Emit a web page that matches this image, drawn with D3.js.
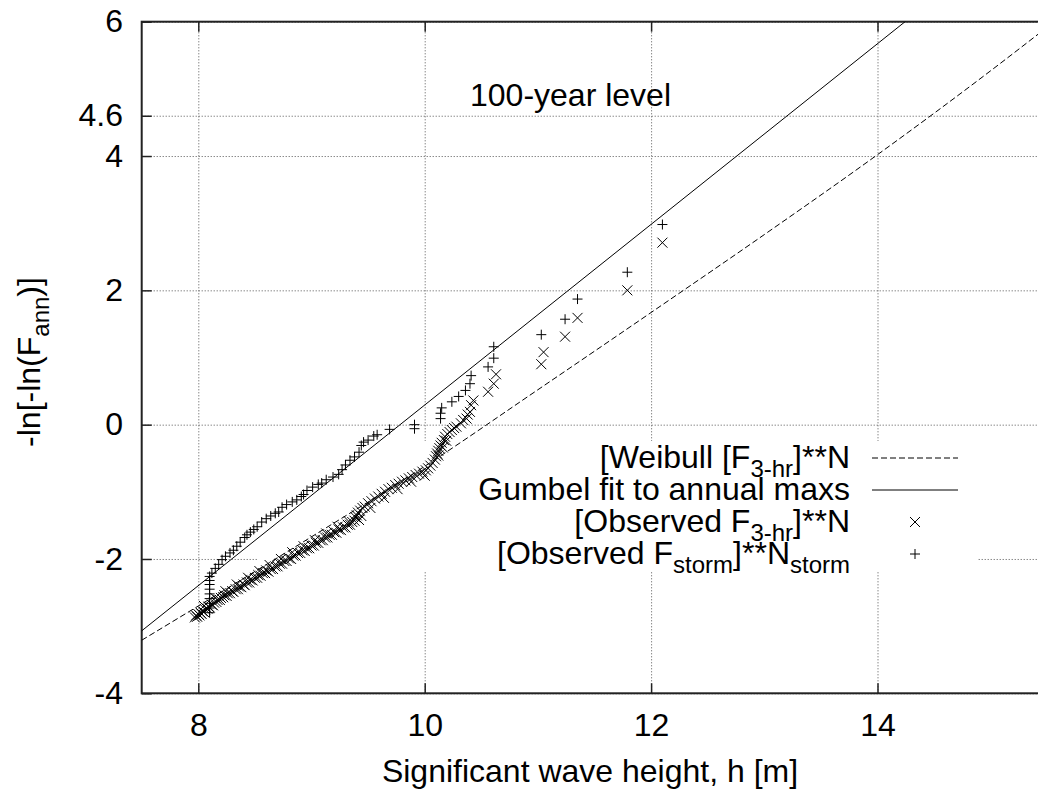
<!DOCTYPE html>
<html>
<head>
<meta charset="utf-8">
<script src="https://cdn.jsdelivr.net/npm/d3@7"></script>
<style>
  body { margin: 0; background: #fff; }
  text { font-family: "Liberation Sans", Arial, Helvetica, sans-serif; fill: #000; }
</style>
</head>
<body>
<div id="vis"></div>
<script>
// tick values
var xTicks = [8, 10, 12, 14];
var yTicks = [-4, -2, 0, 2, 4, 4.6, 6];

// Gumbel fit to annual maxs (straight line) - end points
var gumbelH = [7.5, 15.5];
var gumbelY = [-3.07, 7.69];

// [Weibull F3-hr]**N curve
var weibullH = [7.5, 8, 9, 10, 11, 12, 13, 14, 15, 15.5];
var weibullY = [-3.21, -2.70, -1.67, -0.62, 0.52, 1.67, 2.83, 4.02, 5.27, 5.92];

// [Observed F3-hr]**N  (x marks)
var obs3hr = [
  [7.97,-2.87],[7.98,-2.84],[7.99,-2.86],[8.00,-2.82],[8.01,-2.84],[8.02,-2.80],[8.03,-2.82],
  [8.04,-2.78],[8.05,-2.79],[8.06,-2.75],[8.08,-2.74],[8.09,-2.71],[8.10,-2.72],[8.12,-2.68],
  [8.13,-2.69],[8.14,-2.65],[8.16,-2.64],[8.17,-2.61],[8.19,-2.61],[8.20,-2.58],[8.22,-2.57],
  [8.23,-2.54],[8.25,-2.55],[8.26,-2.51],[8.28,-2.51],[8.30,-2.48],[8.31,-2.49],[8.33,-2.45],
  [8.35,-2.45],[8.36,-2.41],[8.38,-2.42],[8.40,-2.38],[8.41,-2.39],[8.43,-2.35],[8.45,-2.35],
  [8.46,-2.31],[8.48,-2.32],[8.50,-2.28],[8.52,-2.28],[8.53,-2.24],[8.55,-2.25],[8.57,-2.21],
  [8.59,-2.21],[8.60,-2.17],[8.62,-2.19],[8.64,-2.15],[8.66,-2.15],[8.68,-2.11],[8.70,-2.11],
  [8.72,-2.07],[8.74,-2.07],[8.76,-2.03],[8.78,-2.03],[8.80,-1.99],[8.82,-2.00],[8.84,-1.95],
  [8.86,-1.95],[8.88,-1.91],[8.90,-1.91],[8.92,-1.87],[8.94,-1.88],[8.96,-1.84],[8.98,-1.84],
  [9.00,-1.80],[9.02,-1.80],[9.04,-1.76],[9.06,-1.76],[9.08,-1.72],[9.10,-1.72],[9.12,-1.68],
  [9.14,-1.68],[9.16,-1.64],[9.18,-1.64],[9.20,-1.60],[9.22,-1.61],[9.24,-1.56],[9.26,-1.57],
  [9.28,-1.53],[9.30,-1.53],[9.32,-1.49],[9.34,-1.49],[9.36,-1.45],[9.38,-1.43],[9.39,-1.38],
  [9.40,-1.35],[9.41,-1.31],[9.43,-1.28],[9.45,-1.24],[9.47,-1.22],[9.50,-1.17],[9.53,-1.14],
  [9.56,-1.10],[9.59,-1.07],[9.62,-1.03],[9.65,-1.00],[9.68,-0.96],[9.71,-0.94],[9.74,-0.90],
  [9.77,-0.88],[9.80,-0.85],[9.83,-0.83],[9.86,-0.80],[9.89,-0.78],[9.92,-0.75],[9.95,-0.73],
  [9.98,-0.70],[10.01,-0.68],[10.03,-0.65],[10.05,-0.61],[10.07,-0.57],[10.09,-0.52],[10.10,-0.47],
  [10.11,-0.43],[10.12,-0.39],[10.13,-0.35],[10.14,-0.31],[10.15,-0.27],[10.17,-0.23],[10.18,-0.18],
  [10.20,-0.14],[10.22,-0.11],[10.24,-0.08],[10.26,-0.05],[10.28,-0.03],[10.32,0.02],[10.34,0.07],
  [10.37,0.09],[10.38,0.15],[10.40,0.19],[10.41,0.29],[10.43,0.36],
  [10.56,0.49],[10.61,0.61],[10.63,0.75],[11.03,0.90],[11.05,1.08],[11.24,1.31],[11.35,1.59],
  [11.79,2.00],[12.10,2.71],
  // ties that thicken the band
  [8.05,-2.70],[8.15,-2.58],[8.24,-2.48],[8.34,-2.38],[8.44,-2.28],[8.54,-2.18],[8.63,-2.09],
  [8.73,-2.00],[8.83,-1.90],[8.93,-1.81],[9.03,-1.72],[9.13,-1.62],[9.23,-1.52],[9.33,-1.44],
  [9.42,-1.42],[9.44,-1.36],[9.52,-1.24],[9.64,-1.09],[9.76,-0.96],[9.88,-0.85],[10.00,-0.76],
  [10.12,-0.46],[10.16,-0.34],[10.19,-0.24]
];

// [Observed Fstorm]**Nstorm  (+ marks)
var obsStorm = [
  [8.10,-2.80],[8.10,-2.73],[8.10,-2.66],[8.10,-2.59],[8.10,-2.52],[8.10,-2.45],[8.10,-2.38],
  [8.10,-2.32],[8.10,-2.26],[8.12,-2.21],[8.15,-2.14],[8.18,-2.08],[8.21,-2.01],[8.24,-1.96],
  [8.28,-1.91],[8.31,-1.87],[8.34,-1.81],[8.37,-1.75],[8.41,-1.68],[8.43,-1.64],[8.46,-1.60],
  [8.49,-1.56],[8.52,-1.52],[8.56,-1.45],[8.60,-1.40],[8.64,-1.36],[8.68,-1.32],[8.71,-1.30],
  [8.74,-1.23],[8.78,-1.19],[8.83,-1.15],[8.87,-1.12],[8.91,-1.07],[8.93,-1.04],[8.96,-0.98],
  [9.01,-0.93],[9.06,-0.89],[9.09,-0.87],[9.13,-0.82],[9.19,-0.78],[9.24,-0.74],[9.27,-0.67],
  [9.30,-0.60],[9.34,-0.53],[9.38,-0.48],[9.42,-0.41],[9.44,-0.31],[9.46,-0.26],[9.50,-0.23],
  [9.55,-0.17],[9.58,-0.15],[9.69,-0.07],[9.91,-0.06],[9.91,0.00],[10.14,0.09],[10.14,0.17],
  [10.15,0.25],[10.24,0.34],[10.30,0.42],[10.36,0.51],[10.40,0.61],[10.41,0.73],[10.56,0.86],
  [10.61,0.99],[10.61,1.16],[11.03,1.34],[11.24,1.57],[11.35,1.87],[11.79,2.27],[12.10,2.98]
];

var legendLabels = ["[Weibull [F", "Gumbel fit to annual maxs", "[Observed F", "[Observed F"];

var width = 1038;
var height = 792;

var svg = d3.select("#vis").append("svg")
    .attr("width", width)
    .attr("height", height);

svg.append("rect").attr("width", width).attr("height", height).style("fill", "#fff");

// plot box (right edge runs off the picture)
var plotL = 141.7, plotR = 1047.3, plotT = 21.7, plotB = 693.3;

var x = d3.scaleLinear().domain([7.5, 15.5]).range([plotL, plotR]);
var y = d3.scaleLinear().domain([-4, 6]).range([plotB, plotT]);

// grid
var grid = svg.append("g").attr("class", "grid");
grid.append("g")
    .attr("transform", "translate(0," + plotB + ")")
    .call(d3.axisBottom(x).tickValues(xTicks).tickSize(-(plotB - plotT)).tickFormat(""));
grid.append("g")
    .attr("transform", "translate(" + plotL + ",0)")
    .call(d3.axisLeft(y).tickValues(yTicks).tickSize(-(plotR - plotL)).tickFormat(""));
grid.selectAll(".domain").remove();
grid.selectAll("line")
    .style("stroke", "#555")
    .style("stroke-width", 1)
    .style("stroke-dasharray", "1,2");

// key box hides the grid behind it
svg.append("rect")
    .attr("x", 258).attr("y", 441)
    .attr("width", 719).attr("height", 131)
    .style("fill", "#fff");

// axes with inward ticks
var fontSize = 32;
var xAxis = svg.append("g")
    .attr("transform", "translate(0," + plotB + ")")
    .call(d3.axisBottom(x).tickValues(xTicks).tickSize(-10).tickPadding(20).tickFormat(function(d) { return String(d); }));
var yAxis = svg.append("g")
    .attr("transform", "translate(" + plotL + ",0)")
    .call(d3.axisLeft(y).tickValues(yTicks).tickSize(-10).tickPadding(18.7).tickFormat(function(d) { return String(d); }));
var topAxis = svg.append("g")
    .attr("transform", "translate(0," + plotT + ")")
    .call(d3.axisTop(x).tickValues(xTicks).tickSize(-10).tickFormat(""));

[xAxis, yAxis, topAxis].forEach(function(a) {
  a.selectAll(".domain").remove();
  a.selectAll("line").style("stroke", "#222").style("stroke-width", 1.5);
  a.selectAll("text")
      .style("font-size", fontSize + "px")
      .style("font-family", "'Liberation Sans', Arial, Helvetica, sans-serif")
      .style("fill", "#000");
});

// border
svg.append("rect")
    .attr("x", plotL).attr("y", plotT)
    .attr("width", plotR - plotL).attr("height", plotB - plotT)
    .style("fill", "none")
    .style("stroke", "#222")
    .style("stroke-width", 2);

// clip for curves and points
svg.append("clipPath").attr("id", "plotclip")
  .append("rect")
    .attr("x", plotL).attr("y", plotT)
    .attr("width", plotR - plotL).attr("height", plotB - plotT);

var plot = svg.append("g").attr("clip-path", "url(#plotclip)");

var line = d3.line()
    .x(function(d) { return x(d[0]); })
    .y(function(d) { return y(d[1]); })
    .curve(d3.curveMonotoneX);

plot.append("path")
    .datum(weibullH.map(function(h, i) { return [h, weibullY[i]]; }))
    .attr("d", line)
    .style("fill", "none")
    .style("stroke", "#000")
    .style("stroke-width", 1)
    .style("stroke-dasharray", "6,3");

plot.append("path")
    .datum(gumbelH.map(function(h, i) { return [h, gumbelY[i]]; }))
    .attr("d", line)
    .style("fill", "none")
    .style("stroke", "#000")
    .style("stroke-width", 1);

var crossPath = "M-5,-5L5,5M-5,5L5,-5";
var plusPath = "M-5,0H5M0,-5V5";

plot.selectAll(".cross")
    .data(obs3hr)
  .enter().append("path")
    .attr("class", "cross")
    .attr("transform", function(d) { return "translate(" + x(d[0]) + "," + y(d[1]) + ")"; })
    .attr("d", crossPath)
    .style("fill", "none")
    .style("stroke", "#000")
    .style("stroke-width", 1);

plot.selectAll(".plus")
    .data(obsStorm)
  .enter().append("path")
    .attr("class", "plus")
    .attr("transform", function(d) { return "translate(" + x(d[0]) + "," + y(d[1]) + ")"; })
    .attr("d", plusPath)
    .style("fill", "none")
    .style("stroke", "#000")
    .style("stroke-width", 1);

// key
var keyRows = [458, 490, 522, 554];
var keyText = svg.append("g").style("font-size", fontSize + "px");

function subText(g, rowY, parts) {
  var t = g.append("text")
      .attr("x", 850)
      .attr("y", rowY + 10)
      .attr("text-anchor", "end");
  parts.forEach(function(p) {
    var ts = t.append("tspan").text(p.s);
    if (p.sub) ts.style("font-size", "24px").attr("dy", 9);
    if (p.up) ts.attr("dy", -9);
  });
}

subText(keyText, keyRows[0], [{s: legendLabels[0]}, {s: "3-hr", sub: true}, {s: "]**N", up: true}]);
subText(keyText, keyRows[1], [{s: legendLabels[1]}]);
subText(keyText, keyRows[2], [{s: legendLabels[2]}, {s: "3-hr", sub: true}, {s: "]**N", up: true}]);
subText(keyText, keyRows[3], [{s: legendLabels[3]}, {s: "storm", sub: true}, {s: "]**N", up: true}, {s: "storm", sub: true}]);

svg.append("line")
    .attr("x1", 872).attr("x2", 958)
    .attr("y1", keyRows[0]).attr("y2", keyRows[0])
    .style("stroke", "#000").style("stroke-dasharray", "6,3");
svg.append("line")
    .attr("x1", 872).attr("x2", 958)
    .attr("y1", keyRows[1]).attr("y2", keyRows[1])
    .style("stroke", "#000");
svg.append("path")
    .attr("transform", "translate(915," + keyRows[2] + ")")
    .attr("d", crossPath)
    .style("fill", "none").style("stroke", "#000");
svg.append("path")
    .attr("transform", "translate(915," + keyRows[3] + ")")
    .attr("d", plusPath)
    .style("fill", "none").style("stroke", "#000");

// labels
svg.append("text")
    .attr("x", 470)
    .attr("y", 106)
    .style("font-size", fontSize + "px")
    .text("100-year level");

svg.append("text")
    .attr("x", 590)
    .attr("y", 782)
    .attr("text-anchor", "middle")
    .style("font-size", fontSize + "px")
    .text("Significant wave height, h [m]");

var ylab = svg.append("text")
    .attr("transform", "translate(40,362) rotate(-90)")
    .attr("text-anchor", "middle")
    .style("font-size", fontSize + "px");
ylab.append("tspan").text("-ln[-ln(F");
ylab.append("tspan").text("ann").style("font-size", "24px").attr("dy", 9);
ylab.append("tspan").text(")]").attr("dy", -9);
</script>
</body>
</html>
